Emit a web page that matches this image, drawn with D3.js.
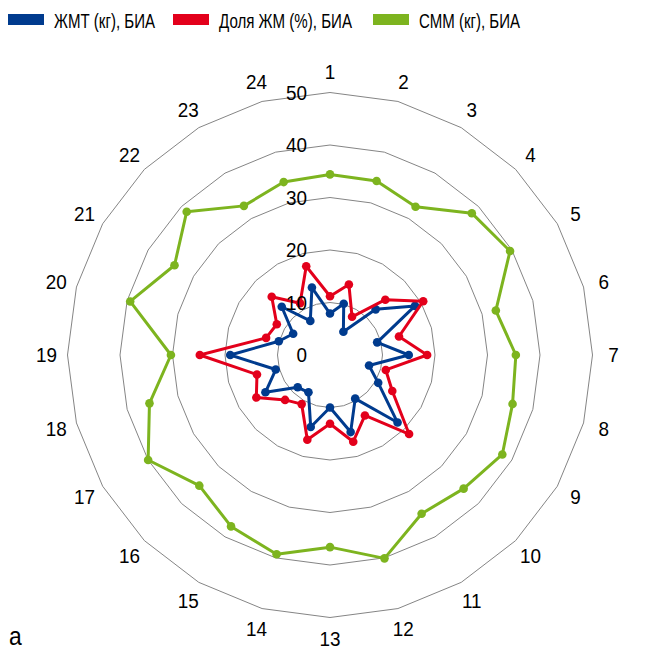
<!DOCTYPE html>
<html>
<head>
<meta charset="utf-8">
<script src="https://cdn.jsdelivr.net/npm/d3@7"></script>
<style>
  html, body { margin: 0; padding: 0; background: #fff; }
  svg { display: block; font-family: "Liberation Sans", Arial, sans-serif; }
</style>
</head>
<body>
<svg id="chart" width="647" height="652"></svg>
<script>
// Categories (24 measurements around the radar)
const categories = d3.range(1, 25).map(String);

// Series values
const fatMassKg = [7.9, 10.1, 5.1, 12.3, 18.7, 9.3, 15.0, 7.7, 10.6, 18.2, 9.6, 15.2,
                   10.0, 14.2, 8.2, 8.7, 14.2, 10.7, 19.0, 10.1, 8.1, 13.0, 7.5, 13.3];
const fatSharePct = [11.2, 13.9, 8.4, 14.9, 20.5, 13.6, 18.5, 11.0, 13.7, 21.3, 13.3, 17.1,
                     13.1, 16.7, 10.8, 12.1, 16.2, 14.4, 24.8, 12.6, 11.7, 15.7, 11.4, 17.5];
const muscleMassKg = [34.4, 34.3, 32.6, 38.2, 39.6, 32.7, 35.4, 36.0, 37.9, 36.0, 34.9, 40.1,
                      36.6, 39.3, 37.7, 35.2, 40.0, 35.6, 30.3, 39.4, 34.2, 38.6, 32.8, 34.1];

// Radial tick values
const tickValues = [0, 10, 20, 30, 40, 50];

const seriesNames = ["ЖМТ (кг), БИА", "Доля ЖМ (%), БИА", "СММ (кг), БИА"];
const seriesColors = ["#003b8e", "#e3001b", "#7db41f"];

const series = [
  { name: seriesNames[0], color: seriesColors[0], values: fatMassKg },
  { name: seriesNames[1], color: seriesColors[1], values: fatSharePct },
  { name: seriesNames[2], color: seriesColors[2], values: muscleMassKg }
];

const svg = d3.select("#chart");
const cx = 330, cy = 355, outerR = 262.5;
const fontSize = 21, squeeze = 0.9;   // slightly condensed lettering

const angle = d3.scalePoint()
  .domain(categories.concat(["_end"]))
  .range([0, 2 * Math.PI]);
const r = d3.scaleLinear().domain([0, 50]).range([0, outerR]);

const g = svg.append("g").attr("transform", `translate(${cx},${cy})`);

// Polygonal grid rings
const ringLine = d3.lineRadial().curve(d3.curveLinearClosed);
g.append("g").selectAll("path")
  .data(tickValues.filter(v => v > 0))
  .join("path")
  .attr("d", v => ringLine(categories.map(c => [angle(c), r(v)])))
  .attr("fill", "none")
  .attr("stroke", "#858585")
  .attr("stroke-width", 1);

// Category labels around the outside
const labelR = outerR + 21;
g.append("g").selectAll("text")
  .data(categories)
  .join("text")
  .attr("transform", c =>
    `translate(${labelR * Math.sin(angle(c))},${-labelR * Math.cos(angle(c))}) scale(${squeeze},1)`)
  .attr("text-anchor", "middle")
  .attr("dominant-baseline", "central")
  .attr("font-size", fontSize)
  .attr("fill", "#000")
  .text(c => c);

// Data series
const seriesLine = d3.lineRadial().curve(d3.curveLinearClosed);
const sg = g.append("g").selectAll("g")
  .data(series)
  .join("g");
sg.append("path")
  .attr("d", s => seriesLine(s.values.map((v, i) => [angle(categories[i]), r(v)])))
  .attr("fill", "none")
  .attr("stroke", s => s.color)
  .attr("stroke-width", 3)
  .attr("stroke-linejoin", "round");
sg.selectAll("circle")
  .data(s => s.values.map((v, i) => ({ v, c: categories[i], color: s.color })))
  .join("circle")
  .attr("cx", d => r(d.v) * Math.sin(angle(d.c)))
  .attr("cy", d => -r(d.v) * Math.cos(angle(d.c)))
  .attr("r", 4.3)
  .attr("fill", d => d.color);

// Radial tick labels along the first axis
g.append("g").selectAll("text")
  .data(tickValues)
  .join("text")
  .attr("transform", v => `translate(-23,${-r(v)}) scale(${squeeze},1)`)
  .attr("text-anchor", "end")
  .attr("dominant-baseline", "central")
  .attr("font-size", fontSize)
  .attr("fill", "#000")
  .text(v => v);

// Legend
const legendX = [8, 173, 373];
const legendTextWidth = [101, 133, 101];
const legend = svg.append("g").selectAll("g")
  .data(series)
  .join("g")
  .attr("transform", (s, i) => `translate(${legendX[i]},19)`);
legend.append("rect")
  .attr("x", 0).attr("y", -5)
  .attr("width", 36).attr("height", 11)
  .attr("fill", s => s.color);
legend.append("text")
  .attr("x", 46)
  .attr("y", 1.5)
  .attr("dominant-baseline", "central")
  .attr("font-size", fontSize)
  .attr("textLength", (s, i) => legendTextWidth[i])
  .attr("lengthAdjust", "spacingAndGlyphs")
  .attr("fill", "#000")
  .text(s => s.name);

// Panel letter
svg.append("text")
  .attr("transform", "translate(9,645) scale(0.88,1)")
  .attr("font-size", 26)
  .attr("fill", "#000")
  .text("а");
</script>
</body>
</html>
